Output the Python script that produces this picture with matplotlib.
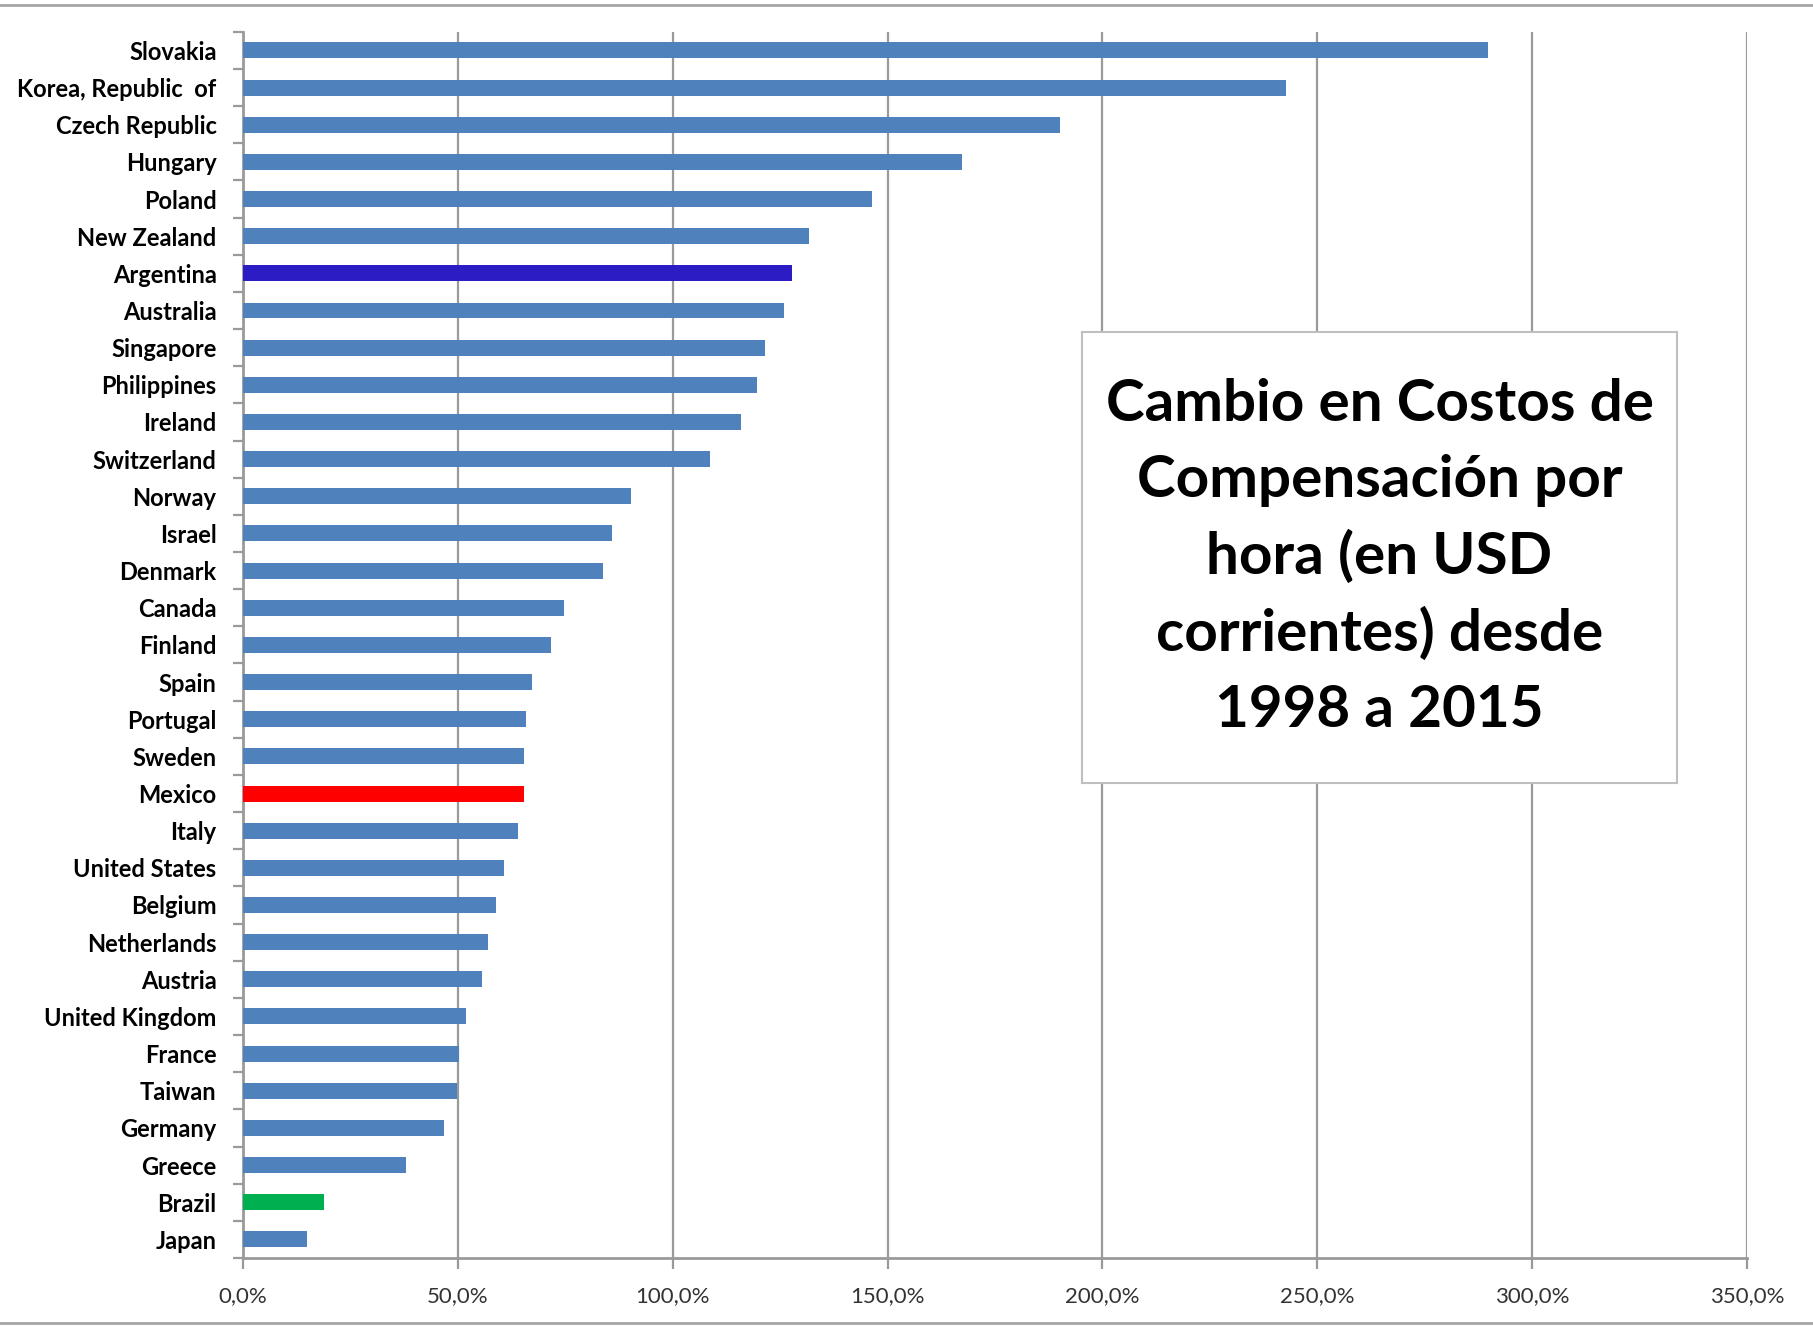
import matplotlib
matplotlib.use("Agg")
import matplotlib.pyplot as plt
from matplotlib.lines import Line2D
import numpy as np

countries = ["Slovakia", "Korea, Republic  of", "Czech Republic", "Hungary", "Poland",
             "New Zealand", "Argentina", "Australia", "Singapore", "Philippines",
             "Ireland", "Switzerland", "Norway", "Israel", "Denmark", "Canada",
             "Finland", "Spain", "Portugal", "Sweden", "Mexico", "Italy",
             "United States", "Belgium", "Netherlands", "Austria", "United Kingdom",
             "France", "Taiwan", "Germany", "Greece", "Brazil", "Japan"]
change_pct = [289.7, 242.7, 190.2, 167.3, 146.3, 131.8, 127.8, 125.9, 121.6, 119.7,
              115.9, 108.7, 90.4, 85.8, 83.9, 74.8, 71.8, 67.3, 65.9, 65.4, 65.4,
              64.0, 60.8, 58.9, 57.0, 55.7, 51.9, 50.3, 49.8, 46.8, 37.9, 18.8, 14.8]
highlight = {"Argentina": "#2B1CC4", "Mexico": "#FF0000", "Brazil": "#00B050"}
base_color = "#4F81BD"
title = "Cambio en Costos de\nCompensación por\nhora (en USD\ncorrientes) desde\n1998 a 2015"

fig = plt.figure(figsize=(18.13, 13.26), dpi=100)
ax = fig.add_axes([0.134, 0.0513, 0.8296, 0.9247])

y = np.arange(len(countries))
colors = [highlight.get(c, base_color) for c in countries]
ax.barh(y, change_pct, height=0.43, color=colors, zorder=3)

ax.set_xlim(0, 350)
ax.set_ylim(len(countries) - 0.5, -0.5)

xt = np.arange(0, 351, 50)
ax.set_xticks(xt)
ax.set_xticklabels([f"{v:.1f}%".replace(".", ",") for v in xt],
                   family="Lato", fontsize=16, color="#333333")
ax.xaxis.grid(True, color="#9a9a9a", linewidth=1.6, zorder=0)
ax.tick_params(axis="x", length=8, width=1.6, color="#9a9a9a", pad=12)

ax.set_yticks(y)
ax.set_yticklabels(countries, family="Lato", fontweight="bold", fontsize=17)
ax.set_yticks(np.arange(len(countries) + 1) - 0.5, minor=True)
ax.tick_params(axis="y", which="major", length=0, pad=19)
ax.tick_params(axis="y", which="minor", length=7, width=1.6, color="#9a9a9a")

for side in ["top", "right"]:
    ax.spines[side].set_visible(False)
for side in ["left", "bottom"]:
    ax.spines[side].set_color("#9a9a9a")
    ax.spines[side].set_linewidth(2.0)

# title box
box_ax = fig.add_axes([1082 / 1813, 1 - 783 / 1326, 595 / 1813, 451 / 1326], zorder=4)
box_ax.set_xticks([])
box_ax.set_yticks([])
for s in box_ax.spines.values():
    s.set_color("#bfbfbf")
    s.set_linewidth(1.5)
box_ax.text(0.5, 0.5, title, ha="center", va="center", family="Lato",
            fontweight="bold", fontsize=42, linespacing=1.52, transform=box_ax.transAxes)

# outer frame lines
fig.add_artist(Line2D([0, 1], [1 - 5 / 1326] * 2, color="#a6a6a6", linewidth=2))
fig.add_artist(Line2D([0, 1], [3 / 1326] * 2, color="#a6a6a6", linewidth=2))

fig.savefig("out.png", dpi=100)
